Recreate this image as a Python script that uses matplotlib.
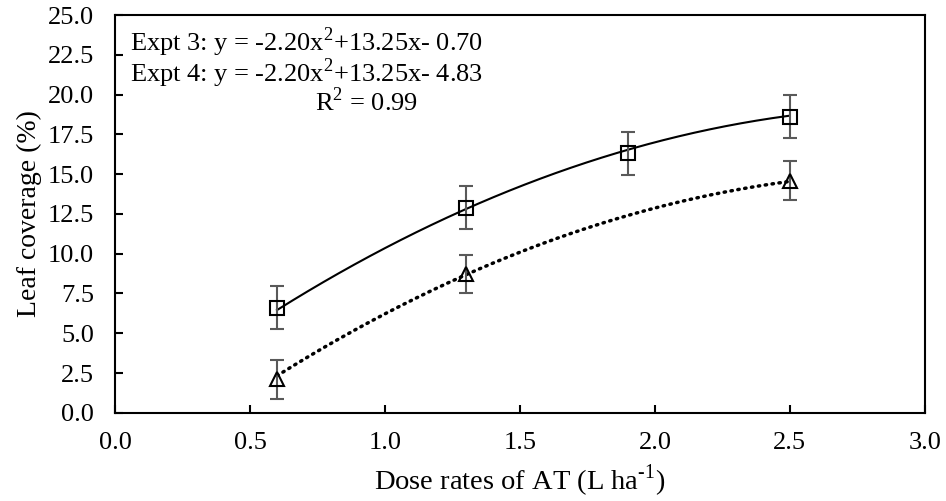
import numpy as np
import matplotlib.pyplot as plt

plt.rcParams['font.family'] = ['Liberation Serif', 'DejaVu Serif']
plt.rcParams['mathtext.fontset'] = 'custom'
plt.rcParams['mathtext.rm'] = 'Liberation Serif'

# Datos
dosis3 = [0.6, 1.3, 1.9, 2.5]
cob3 = [6.6, 12.9, 16.3, 18.6]
err3 = [1.35, 1.35, 1.35, 1.35]

dosis4 = [0.6, 1.3, 2.5]
cob4 = [2.1, 8.7, 14.6]
err4 = [1.2, 1.2, 1.2]

# Coeficientes de las lineas de tendencia (a, b, c)
coef3 = [-2.20, 13.25, -0.70]
coef4 = [-2.20, 13.25, -4.83]

fig = plt.figure(figsize=(9.46, 5.01), dpi=100)
ax = fig.add_axes([0.1216, 0.176, 0.856, 0.794])

# Lineas de tendencia polinomicas
x = np.linspace(0.6, 2.5, 200)
ax.plot(x, np.polyval(coef3, x), color='black', lw=1.5)
ax.plot(x, np.polyval(coef4, x), color='black', lw=2.5, linestyle=(0, (0.4, 1.6)),
        dash_capstyle='round')

# Puntos con barras de error
ax.errorbar(dosis3, cob3, yerr=err3, fmt='s', ms=10, mfc='none', mec='black',
            mew=1.5, ecolor='#595959', elinewidth=1.5, capsize=5, capthick=1.5)
ax.errorbar(dosis4, cob4, yerr=err4, fmt='^', ms=10, mfc='none', mec='black',
            mew=1.5, ecolor='#595959', elinewidth=1.5, capsize=5, capthick=1.5)

ax.set_xlim(0, 3.0)
ax.set_ylim(0, 25.0)
ax.set_xticks(np.arange(0, 3.01, 0.5))
ax.set_yticks(np.arange(0, 25.01, 2.5))
ax.set_xticklabels([f'{v:.1f}' for v in np.arange(0, 3.01, 0.5)])
ax.set_yticklabels([f'{v:.1f}' for v in np.arange(0, 25.01, 2.5)])
ax.tick_params(direction='in', length=6, width=1.5, labelsize=19)
ax.tick_params(axis='y', pad=15)
ax.tick_params(axis='x', pad=14)
for s in ax.spines.values():
    s.set_linewidth(1.5)

ax.set_xlabel(r'Dose rates of AT (L ha$^{\text{-1}}$)', fontsize=20.5, labelpad=6)
ax.set_ylabel('Leaf coverage (%)', fontsize=20, labelpad=4)

# Ecuaciones de ajuste
ax.text(0.055, 23.3, 'Expt 3: y = -2.20x$^{2}$+13.25x- 0.70', fontsize=19, va='center')
ax.text(0.055, 21.35, 'Expt 4: y = -2.20x$^{2}$+13.25x- 4.83', fontsize=19, va='center')
ax.text(0.74, 19.55, 'R$^{2}$ = 0.99', fontsize=19, va='center')

fig.savefig('out.png', dpi=100)
